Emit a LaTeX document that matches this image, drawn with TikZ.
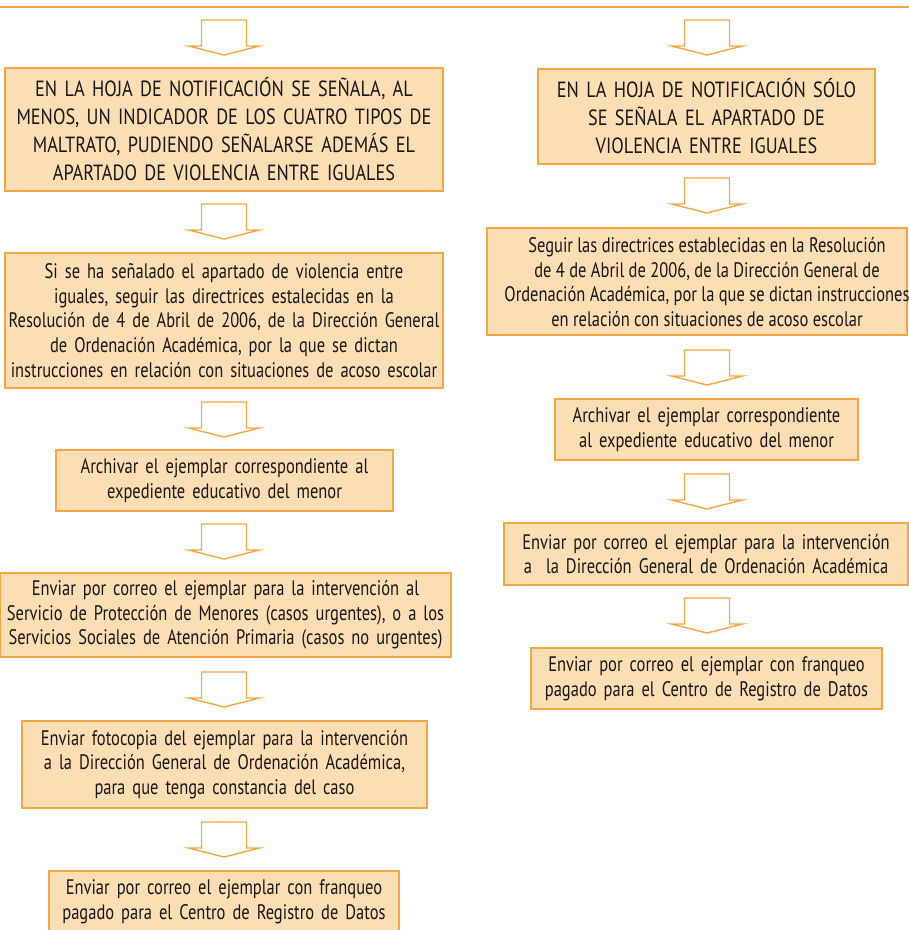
\documentclass[tikz,border=0pt]{standalone}
\usepackage{fontspec}
\setmainfont{PT Sans}[FakeStretch=0.785]
\newfontfamily\capsfont{PT Sans}[FakeStretch=0.83]
\usetikzlibrary{calc}
\definecolor{boxfill}{RGB}{252,222,180}
\definecolor{boxline}{RGB}{245,166,66}
\definecolor{txt}{RGB}{25,22,22}
\tikzset{
  stepbox/.style={draw=boxline, fill=boxfill, line width=1.6pt, align=center,
    inner sep=2pt, text=txt, font=\fontsize{21}{24.6}\selectfont},
  capsbox/.style={stepbox, font=\capsfont\fontsize{22}{28}\selectfont},
  plaintext/.style={align=center, inner sep=0pt, text=txt,
    font=\fontsize{21}{24.6}\selectfont},
  arrowline/.style={draw=boxline, line width=1.4pt, line join=miter, fill=white},
  blockarrow/.pic={\path[arrowline] (-22.5,0) -- (22.5,0) -- (22.5,26) -- (35.5,26)
    -- (0,35) -- (-35.5,26) -- (-22.5,26) -- cycle;}
}
\begin{document}
\lineskiplimit=-50pt\relax
\begin{tikzpicture}[x=1pt,y=-1pt]
\useasboundingbox (0,0) rectangle (909,930);
\clip (0,0) rectangle (909,930);
\coordinate (topL) at (0,7);
\coordinate (topR) at (909,7);
\draw[boxline, line width=1.3pt] (topL) -- (topR);

% left column
\node[capsbox, text width=434pt, minimum height=123pt] (L1) at (224,129.5)
 {EN LA HOJA DE NOTIFICACIÓN SE SEÑALA, AL\\ MENOS, UN INDICADOR DE LOS CUATRO TIPOS DE\\ MALTRATO, PUDIENDO SEÑALARSE ADEMÁS EL\\ APARTADO DE VIOLENCIA ENTRE IGUALES};
\node[stepbox, text width=434pt, minimum height=135pt] (L2) at (224,320.5)
 {Si se ha señalado el apartado de violencia entre\\ iguales, seguir las directrices estalecidas en la\\ Resolución de 4 de Abril de 2006, de la Dirección General\\ de Ordenación Académica, por la que se dictan\\ instrucciones en relación con situaciones de acoso escolar};
\node[stepbox, text width=333pt, minimum height=61pt] (L3) at (224.5,480.5)
 {Archivar el ejemplar correspondiente al\\ expediente educativo del menor};
\node[stepbox, text width=447pt, minimum height=84pt] (L4) at (225.5,615)
 {Enviar por correo el ejemplar para la intervención al\\ Servicio de Protección de Menores (casos urgentes), o a los\\ Servicios Sociales de Atención Primaria (casos no urgentes)};
\node[stepbox, text width=401pt, minimum height=87pt] (L5) at (224.5,764.5)
 {Enviar fotocopia del ejemplar para la intervención\\ a la Dirección General de Ordenación Académica,\\ para que tenga constancia del caso};
\node[stepbox, text width=346pt, minimum height=61pt] (L6) at (224,901.5)
 {Enviar por correo el ejemplar con franqueo\\ pagado para el Centro de Registro de Datos};

% right column
\node[capsbox, text width=333pt, minimum height=95pt] (R1) at (706.5,116.5)
 {EN LA HOJA DE NOTIFICACIÓN SÓLO\\ SE SEÑALA EL APARTADO DE\\ VIOLENCIA ENTRE IGUALES};
\node[stepbox, minimum width=420pt, minimum height=107pt] (R2) at (697,281.5) {\strut};
\node[plaintext] (R2t) at (707,282)
 {Seguir las directrices establecidas en la Resolución\\ de 4 de Abril de 2006, de la Dirección General de\\ Ordenación Académica, por la que se dictan instrucciones\\ en relación con situaciones de acoso escolar};
\node[stepbox, text width=299pt, minimum height=61pt] (R3) at (706.5,429.5)
 {Archivar el ejemplar correspondiente\\ al expediente educativo del menor};
\node[stepbox, text width=400pt, minimum height=62pt] (R4) at (706,554)
 {Enviar por correo el ejemplar para la intervención\\ a\ \ la Dirección General de Ordenación Académica};
\node[stepbox, text width=347pt, minimum height=61pt] (R5) at (706.5,678.5)
 {Enviar por correo el ejemplar con franqueo\\ pagado para el Centro de Registro de Datos};

% block arrows
\foreach \y in {20,204,402,524,672,822} \pic at (224,\y) {blockarrow};
\foreach \y in {20,178,350,474,598} \pic at (707,\y) {blockarrow};
\end{tikzpicture}
\end{document}
